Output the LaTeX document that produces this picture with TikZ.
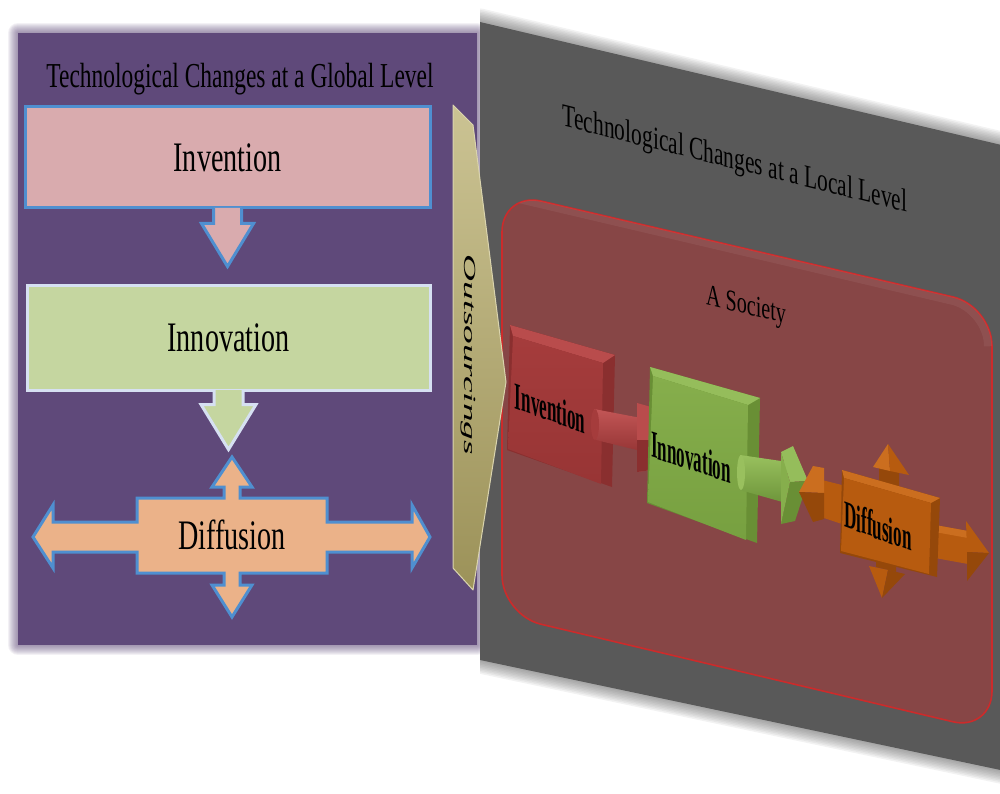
\documentclass[tikz,border=0pt]{standalone}
\usepackage{graphicx}
\usepackage{fontspec}
\setmainfont{Liberation Serif}
\newfontfamily\narrowserif[FakeStretch=0.67]{Liberation Serif}
\newfontfamily\blockserif[FakeStretch=0.45]{Liberation Serif}
\usetikzlibrary{calc}

\definecolor{globalbg}{HTML}{5F497A}
\definecolor{localbg}{HTML}{595959}
\definecolor{invfill}{HTML}{D9ABAE}
\definecolor{innfill}{HTML}{C5D6A0}
\definecolor{diffill}{HTML}{EBB289}
\definecolor{blueedge}{HTML}{4F8FD0}
\definecolor{paleedge}{HTML}{D6E0F2}
\definecolor{olivetop}{HTML}{CBC393}
\definecolor{olivebot}{HTML}{9C9259}
\definecolor{olivedge}{HTML}{DAD4AE}
\definecolor{socfill}{HTML}{874646}
\definecolor{socedge}{HTML}{CC2B2B}
\definecolor{redface}{HTML}{A53C3C}
\definecolor{redfacelow}{HTML}{983535}
\definecolor{redtop}{HTML}{B94C4C}
\definecolor{redside}{HTML}{8A2F2F}
\definecolor{redlight}{HTML}{C25656}
\definecolor{reddark}{HTML}{973636}
\definecolor{greenface}{HTML}{86AE4C}
\definecolor{greenfacelow}{HTML}{77A040}
\definecolor{greentop}{HTML}{95BD5B}
\definecolor{greenside}{HTML}{698F35}
\definecolor{greenlight}{HTML}{99C05E}
\definecolor{greendark}{HTML}{6D953A}
\definecolor{orangeface}{HTML}{B75B0F}
\definecolor{orangetop}{HTML}{CB6E1F}
\definecolor{orangeside}{HTML}{95480A}

\tikzset{
  globaltext/.style={font=\narrowserif\fontsize{42}{46}\selectfont, text=black},
  titletext/.style={font=\narrowserif\fontsize{35}{40}\selectfont, text=black, anchor=base},
  localtext/.style={font=\narrowserif\fontsize{32}{36}\selectfont, text=black, anchor=base},
  blocktext/.style={font=\blockserif\bfseries\fontsize{38}{40}\selectfont, text=black, anchor=base},
  flatbox/.style={line width=3pt, inner sep=0pt},
  flatarrow/.style={line width=3pt, line join=miter},
  feather/.style={line width=#1, line join=round, opacity=0.075}
}

\begin{document}
\begin{tikzpicture}[x=1pt,y=-1pt]
\useasboundingbox (0,0) rectangle (1000,794);
\fill[white] (0,0) rectangle (1000,794);

% ---- global panel (purple, soft edge) ----
\foreach \w in {2,4,...,20}
  \draw[globalbg, feather=\w] (18,33) rectangle (477,645);
\fill[globalbg] (18,33) rectangle (477,645);

% ---- local panel (grey plane in perspective) ----
\begin{scope}
  \clip (480,0) rectangle (1000,794);
  \foreach \w in {3,6,...,27}
    \draw[localbg, feather=\w] (480,22) -- (1010,147) -- (1010,772) -- (480,660) -- cycle;
  \fill[localbg] (480,22) -- (1010,147) -- (1010,772) -- (480,660) -- cycle;
\end{scope}

% ---- global level content ----
\node[titletext] (gtitle) at (240,88) {Technological Changes at a Global Level};

\node[flatbox, draw=blueedge, fill=invfill, minimum width=405pt, minimum height=101pt, globaltext]
  (ginv) at (227.5,157.5) {Invention};
\filldraw[flatarrow, fill=invfill, draw=blueedge]
  ([xshift=-14pt,yshift=1.5pt]ginv.south) -- ++(0,15.5) -- ++(-12,0) -- ++(26,43)
  -- ++(26,-43) -- ++(-12,0) -- ++(0,-15.5);

\node[flatbox, draw=paleedge, fill=innfill, minimum width=403pt, minimum height=105pt, globaltext]
  (ginn) at (228.5,337.5) {Innovation};
\filldraw[flatarrow, fill=innfill, draw=paleedge]
  ([xshift=-14.5pt,yshift=1.5pt]ginn.south) -- ++(0,14.5) -- ++(-13,0) -- ++(27.5,45)
  -- ++(27.5,-45) -- ++(-13,0) -- ++(0,-14.5);

% four-way diffusion arrow
\filldraw[flatarrow, fill=diffill, draw=blueedge]
  (137,498) -- (224,498) -- (224,487) -- (212,487) -- (232,457) -- (252,487) -- (240,487)
  -- (240,498) -- (327,498) -- (327,522) -- (412,522) -- (412,505) -- (430,537) -- (412,568)
  -- (412,552) -- (327,552) -- (327,573) -- (240,573) -- (240,585) -- (252,585) -- (232,617)
  -- (212,585) -- (224,585) -- (224,573) -- (137,573) -- (137,552) -- (53,552) -- (53,568)
  -- (33,537) -- (53,505) -- (53,522) -- (137,522) -- cycle;
\node[globaltext] (gdif) at (232,535) {Diffusion};

% ---- a society (red plane) ----
\filldraw[socedge, line width=1.6pt, fill=socfill, rounded corners=40pt]
  (502,400) -- (502,192) -- (992,306) -- (992,731) -- (502,615) -- cycle;
\begin{scope}
  \clip[rounded corners=40pt] (502,400) -- (502,192) -- (992,306) -- (992,731) -- (502,615) -- cycle;
  \draw[white, opacity=0.06, line width=16pt, rounded corners=40pt, line cap=round]
    (515,194) -- (992,306) -- (992,335);
\end{scope}

\node[localtext, yslant=-0.25] (ltitle) at (735,169) {Technological Changes at a Local Level};
\node[localtext, font=\narrowserif\fontsize{30}{34}\selectfont, yslant=-0.24] (soc) at (746,314) {A Society};

% ---- outsourcing arrow ----
\shade[top color=olivetop, bottom color=olivebot]
  (453,105) -- (473,125) -- (506,382) -- (473,590) -- (453,568) -- cycle;
\draw[olivedge, line width=1pt, line join=round]
  (453,105) -- (473,125) -- (506,382) -- (473,590) -- (453,568) -- cycle;
\node[rotate=-90, font=\itshape\fontsize{17}{19}\selectfont] (outs) at (468,355)
  {\scalebox{2.2}[1]{Outsourcings}};

% ---- invention block ----
\fill[redside] (510,325) -- (615,355) -- (612,487) -- (507,450) -- cycle;
\fill[redtop] (510,325) -- (615,355) -- (603,363) -- (513,336) -- cycle;
\shade[top color=redface, bottom color=redfacelow] (513,336) -- (603,363) -- (601,484) -- (508,449) -- cycle;
\node[blocktext, yslant=-0.36] (linv) at (550,421) {Invention};

% invention -> innovation
\shade[top color=redlight, bottom color=reddark] (594,409) -- (641,418) -- (641,451) -- (596,440) -- cycle;
\fill[redface] (595,424.5) ellipse (4 and 15.5);
\fill[redtop] (637,403) -- (651,407) -- (651,470) -- (637,472) -- cycle;
\fill[redside] (637,440) -- (651,440) -- (651,470) -- (637,472) -- cycle;

% ---- innovation block ----
\fill[greenside] (650,367) -- (760,398) -- (757,543) -- (647,503) -- cycle;
\fill[greentop] (650,367) -- (760,398) -- (748,405) -- (653,376) -- cycle;
\shade[top color=greenface, bottom color=greenfacelow] (653,376) -- (748,405) -- (746,540) -- (648,502) -- cycle;
\node[blocktext, yslant=-0.33] (linn) at (691,470) {Innovation};

% innovation -> diffusion
\shade[top color=greenlight, bottom color=greendark] (740,455) -- (788,462) -- (786,503) -- (740,490) -- cycle;
\fill[greenlight] (741,472.5) ellipse (4 and 17.5);
\fill[greentop] (781,452) -- (793,446) -- (808,481) -- (790,482) -- cycle;
\fill[greenside] (790,482) -- (808,481) -- (795,521) -- (781,524) -- cycle;
\fill[greenface] (781,452) -- (790,482) -- (781,524) -- cycle;

% ---- diffusion block ----
% left arm
\fill[orangeface] (818,479) -- (842,485) -- (842,524) -- (818,516) -- cycle;
\fill[orangetop] (813,466) -- (824,468) -- (824,493) -- (799,492) -- cycle;
\fill[orangeside] (799,492) -- (824,493) -- (824,519) -- (813,522) -- cycle;
% up arm
\fill[orangeside] (879,463) -- (899,468) -- (899,487) -- (879,482) -- cycle;
\fill[orangetop] (873,467) -- (888,444) -- (890,471) -- cycle;
\fill[orangeface] (888,444) -- (909,475) -- (890,471) -- cycle;
% down arm
\fill[orangeside] (876,553) -- (896,558) -- (896,572) -- (876,567) -- cycle;
\fill[orangeface] (869,566) -- (888,570) -- (882,598) -- cycle;
\fill[orangeside] (888,570) -- (905,574) -- (882,598) -- cycle;
% right arm
\fill[orangeface] (935,525) -- (968,531) -- (968,564) -- (935,558) -- cycle;
\fill[orangetop] (935,525) -- (968,531) -- (968,538) -- (935,532) -- cycle;
\fill[orangeface] (966,521) -- (989,553) -- (967,552) -- cycle;
\fill[orangeside] (967,552) -- (989,553) -- (967,581) -- cycle;
% centre
\fill[orangeside] (842,470) -- (940,498) -- (937,577) -- (840,553) -- cycle;
\fill[orangetop] (842,470) -- (940,498) -- (931,503) -- (844,478) -- cycle;
\fill[orangeface] (844,478) -- (931,503) -- (929,574) -- (841,551) -- cycle;
\node[blocktext, yslant=-0.37] (ldif) at (878,539) {Diffusion};

\end{tikzpicture}
\end{document}
